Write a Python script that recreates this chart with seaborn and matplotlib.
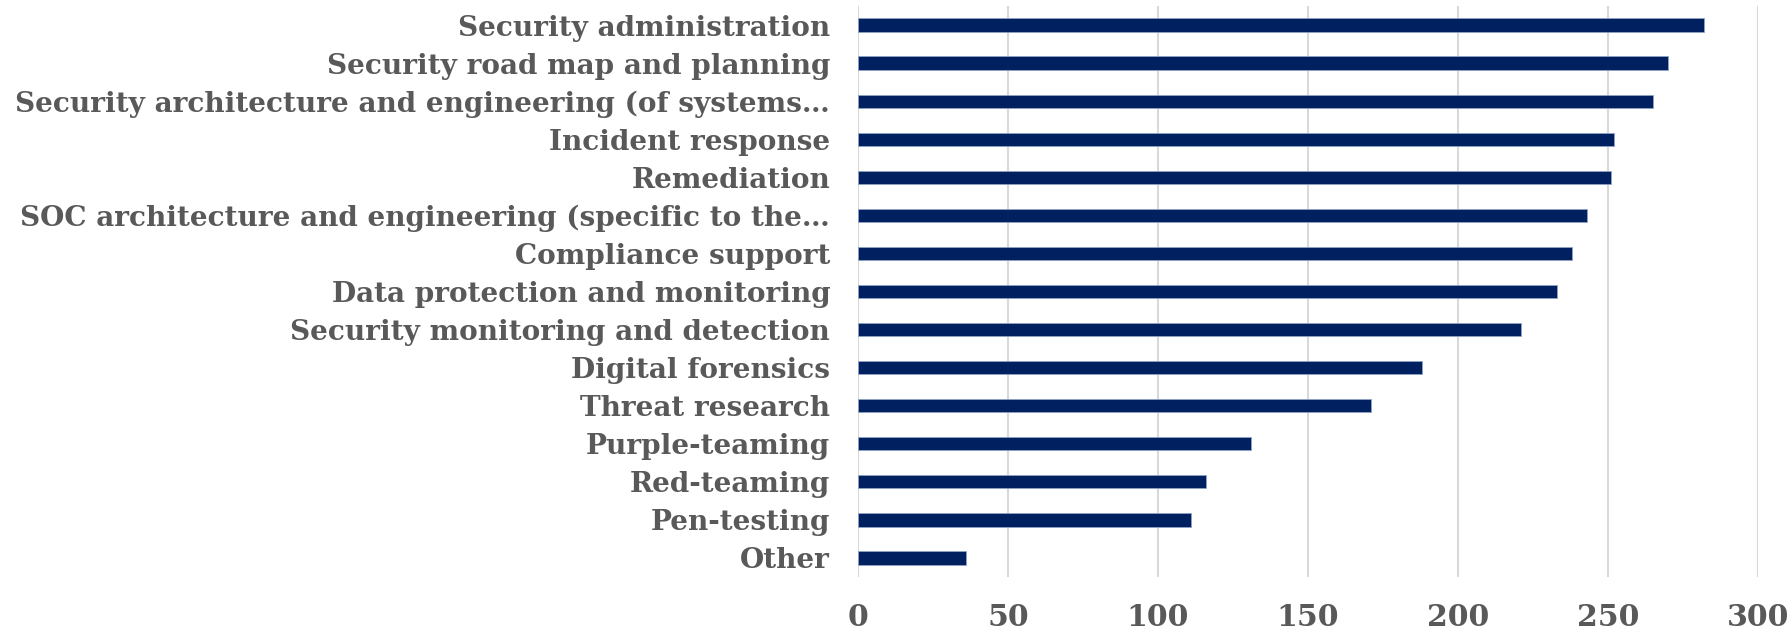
import matplotlib
matplotlib.use("Agg")
import matplotlib.pyplot as plt
import seaborn as sns
import pandas as pd

categories = [
    "Security administration",
    "Security road map and planning",
    "Security architecture and engineering (of systems\u2026",
    "Incident response",
    "Remediation",
    "SOC architecture and engineering (specific to the\u2026",
    "Compliance support",
    "Data protection and monitoring",
    "Security monitoring and detection",
    "Digital forensics",
    "Threat research",
    "Purple-teaming",
    "Red-teaming",
    "Pen-testing",
    "Other",
]
values = [282, 270, 265, 252, 251, 243, 238, 233, 221, 188, 171, 131, 116, 111, 36]
x_ticks = [0, 50, 100, 150, 200, 250, 300]

sns.set_theme(style="white")
plt.rcParams['font.family'] = ['DejaVu Serif']

df = pd.DataFrame({"cat": categories, "val": values})

fig = plt.figure(figsize=(17.9, 6.32), dpi=100)
ax = fig.add_axes([858/1790, 1-577/632, (1758-858)/1790, (577-6)/632])

sns.barplot(data=df, y="cat", x="val", orient="h", color="#002060",
            width=0.35, ax=ax, saturation=1, edgecolor="#8fa3c8", linewidth=0.6)

ax.set_xlim(0, 300)
ax.set_ylim(len(categories) - 0.5, -0.5)
ax.set_xticks(x_ticks)
ax.set_xticklabels([str(t) for t in x_ticks])
ax.xaxis.grid(True, color="#d9d9d9", linewidth=1.5)
ax.yaxis.grid(False)
ax.set_axisbelow(True)
for s in ax.spines.values():
    s.set_visible(False)
ax.set_xlabel("")
ax.set_ylabel("")
ax.tick_params(axis="y", length=0, pad=20, labelsize=20.1, labelcolor="#595959")
ax.tick_params(axis="x", length=0, pad=19, labelsize=21.5, labelcolor="#595959")
for lbl in ax.get_yticklabels() + ax.get_xticklabels():
    lbl.set_fontweight("bold")

fig.savefig("out.png", dpi=100)
